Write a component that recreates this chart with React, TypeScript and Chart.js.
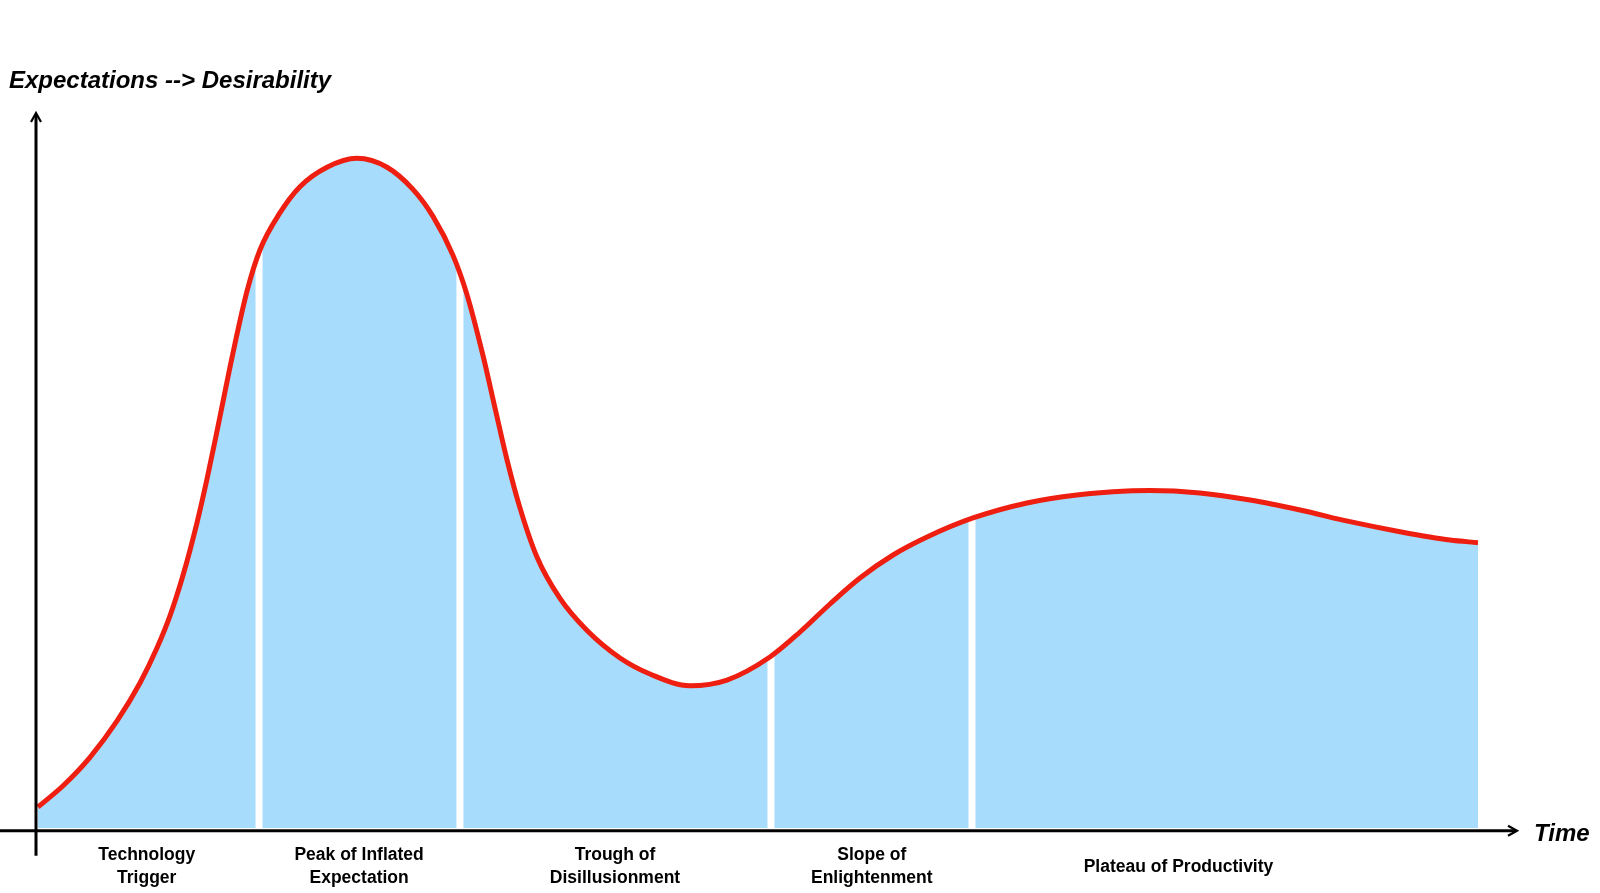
import React, { useEffect, useRef } from "react";
import { Chart, registerables } from "chart.js";

Chart.register(...registerables);

// Time (0-100) and expectation level (0-100)
const timeX = [0, 1.74, 3.61, 5.49, 7.08, 8.26, 9.17, 10.07, 11.04, 11.74, 12.43, 13.54, 14.51, 15.42, 16.81, 18.19, 20.07, 22.15, 24.24, 26.04, 27.43, 28.82, 29.79, 30.9, 31.74, 32.57, 33.47, 34.65, 36.25, 38.13, 40.42, 42.5, 45.28, 47.85, 50.83, 52.92, 55.0, 57.08, 59.38, 61.74, 64.93, 68.68, 72.15, 75.63, 77.22, 80.69, 84.17, 87.64, 91.11, 94.58, 98.06, 100];
const expectation = [3.0, 6.03, 10.09, 15.29, 20.71, 25.71, 30.34, 36.1, 43.6, 49.89, 56.67, 67.87, 76.67, 82.61, 87.9, 91.61, 94.39, 95.67, 94.39, 91.23, 87.37, 81.8, 76.2, 67.51, 59.97, 52.6, 45.73, 38.71, 32.79, 28.21, 24.29, 22.0, 20.33, 21.14, 24.43, 28.0, 32.0, 35.71, 39.0, 41.57, 44.29, 46.43, 47.57, 48.14, 48.21, 47.86, 46.86, 45.43, 43.76, 42.33, 41.14, 40.76];

// Phase boundaries (time) and the curve level at each boundary
const phaseBoundaries = [15.35, 29.3, 50.9, 64.86];
const boundaryLevels = [84, 82, 26, 46];

// Phase names and their centre on the time axis
const phaseNames = [
  ["Technology", "Trigger"],
  ["Peak of Inflated", "Expectation"],
  ["Trough of", "Disillusionment"],
  ["Slope of", "Enlightenment"],
  ["Plateau of Productivity"],
];
const phaseCenters = [7.55, 22.3, 40.07, 57.9, 79.2];

const yAxisTitle = "Expectations --> Desirability";
const xAxisTitle = "Time";

const RED = "rgb(238,30,16)";
const BLUE = "rgb(167,220,252)";

const axesPlugin = {
  id: "hypeAxes",
  afterDraw(chart: any) {
    const ctx = chart.ctx;
    const xs = chart.scales.x;
    const ys = chart.scales.y;
    const x0 = xs.getPixelForValue(0);
    const y0 = ys.getPixelForValue(0);
    const axisY = y0 + 2.7;
    const axisX = x0 - 2;
    ctx.save();
    ctx.strokeStyle = "#000";
    ctx.fillStyle = "#000";
    // x axis
    ctx.lineWidth = 3;
    ctx.beginPath();
    ctx.moveTo(0, axisY);
    ctx.lineTo(xs.getPixelForValue(100) + 38, axisY);
    ctx.stroke();
    // x arrow
    const xt = xs.getPixelForValue(100) + 39;
    ctx.lineWidth = 2.2;
    ctx.beginPath();
    ctx.moveTo(xt - 9, axisY - 5);
    ctx.lineTo(xt, axisY);
    ctx.lineTo(xt - 9, axisY + 5);
    ctx.stroke();
    // y axis
    ctx.lineWidth = 3;
    const yt = ys.getPixelForValue(100) - 15;
    ctx.beginPath();
    ctx.moveTo(axisX, axisY + 25);
    ctx.lineTo(axisX, yt + 2);
    ctx.stroke();
    ctx.lineWidth = 2.2;
    ctx.beginPath();
    ctx.moveTo(axisX - 5, yt + 9);
    ctx.lineTo(axisX, yt);
    ctx.lineTo(axisX + 5, yt + 9);
    ctx.stroke();

    // titles
    ctx.textBaseline = "alphabetic";
    ctx.textAlign = "left";
    ctx.font = "italic bold 24px 'Liberation Sans', Arial, sans-serif";
    ctx.fillText(yAxisTitle, 9, 87.5);
    ctx.font = "italic bold 24px 'Liberation Sans', Arial, sans-serif";
    ctx.fillText(xAxisTitle, xs.getPixelForValue(100) + 56, axisY + 10);

    // phase labels
    ctx.textAlign = "center";
    ctx.textBaseline = "middle";
    ctx.font = "bold 17.5px 'Liberation Sans', Arial, sans-serif";
    phaseNames.forEach((lines, i) => {
      const cx = xs.getPixelForValue(phaseCenters[i]);
      const lh = 22.6;
      const mid = axisY + 36;
      const start = mid - ((lines.length - 1) * lh) / 2;
      lines.forEach((t, j) => ctx.fillText(t, cx, start + j * lh));
    });
    ctx.restore();
  },
};

export default function App() {
  const ref = useRef<HTMLCanvasElement>(null);
  useEffect(() => {
    if (!ref.current) return;
    const pts = timeX.map((x, i) => ({ x, y: expectation[i] }));
    const gapSets = phaseBoundaries.map((b, i) => ({
      data: [
        { x: b, y: 0 },
        { x: b, y: boundaryLevels[i] },
      ],
      borderColor: "#ffffff",
      borderWidth: 7,
      pointRadius: 0,
      fill: false,
      order: 2,
      clip: false as any,
    }));
    const chart = new Chart(ref.current, {
      type: "line",
      data: {
        datasets: [
          {
            data: pts,
            borderColor: RED,
            borderWidth: 5,
            pointRadius: 0,
            fill: false,
            cubicInterpolationMode: "monotone",
            order: 0,
            clip: false as any,
          },
          {
            data: pts,
            borderWidth: 0,
            borderColor: "rgba(0,0,0,0)",
            backgroundColor: BLUE,
            pointRadius: 0,
            fill: "origin",
            cubicInterpolationMode: "monotone",
            order: 5,
          },
          ...gapSets,
        ] as any,
      },
      options: {
        animation: false,
        responsive: false,
        layout: { padding: { left: 38, right: 122, top: 128, bottom: 65 } },
        plugins: { legend: { display: false }, tooltip: { enabled: false }, title: { display: false } },
        scales: {
          x: { type: "linear", min: 0, max: 100, display: false },
          y: { type: "linear", min: 0, max: 100, display: false },
        },
      },
      plugins: [axesPlugin],
    });
    return () => chart.destroy();
  }, []);
  return (
    <div style={{ position: "absolute", left: 0, top: 0, width: 1600, height: 893, background: "#fff" }}>
      <canvas ref={ref} width={1600} height={893} style={{ display: "block" }} />
    </div>
  );
}
